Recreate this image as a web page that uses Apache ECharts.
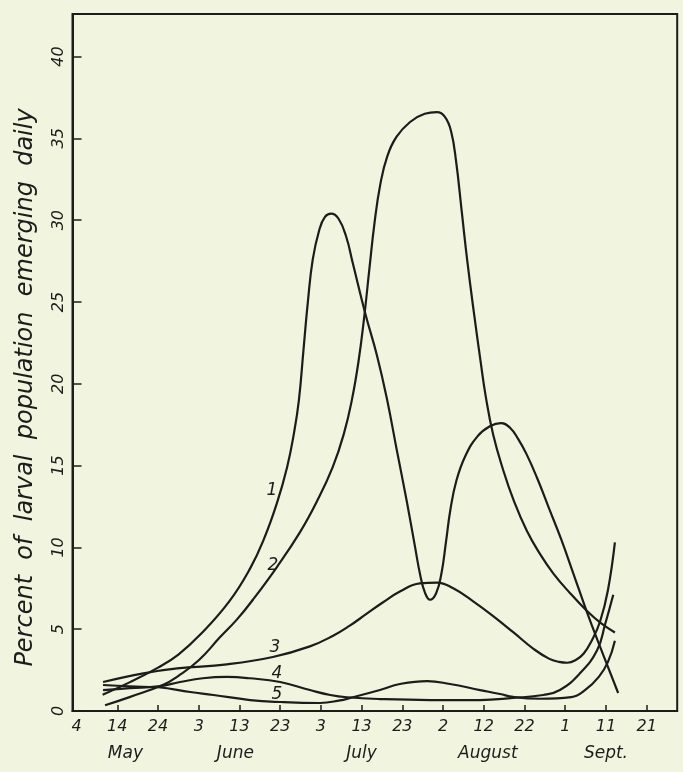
<!DOCTYPE html>
<html><head><meta charset="utf-8">
<script src="https://cdn.jsdelivr.net/npm/echarts@6/dist/echarts.min.js"></script>
<style>html,body{margin:0;padding:0;background:#f1f4df;}#c{width:683px;height:772px;}</style>
</head><body><div id="c"></div>
<script>
// x = days after 4 May
const dayTicks = [0,10,20,30,40,50,60,70,80,90,100,110,120,130,140];
const dayLabels = ['4','14','24','3','13','23','3','13','23','2','12','22','1','11','21'];
const monthPos = [12,39,70,101,130];
const monthNames = ['May','June','July','August','Sept.'];
const yTicks = [0,5,10,15,20,25,30,35,40];
const yTitle = 'Percent  of  larval  population  emerging  daily';

const curve1 = [[6.4,1.0],[13,1.75],[20,2.65],[25,3.45],[30.5,4.7],[37.5,6.7],[42.6,8.7],[46,10.5],[49.2,12.7],[51.7,14.9],[53.4,17.0],[54.6,19.0],[55.7,22.0],[56.8,25.0],[58.0,27.6],[59.6,29.4],[61,30.2],[62.5,30.4],[64.3,30.1],[66.2,29.0],[67.9,27.3],[70.9,24.3],[73.8,21.7],[76.2,19.1],[78.6,16.0],[81.1,12.8],[83.0,10.2],[84.4,8.3],[85.6,7.2],[86.8,6.8],[88.3,7.2],[89.6,8.4],[90.7,10.3],[91.8,12.3],[93.3,14.1],[95.5,15.6],[98.5,16.8],[101.5,17.4],[104.2,17.6],[106.5,17.3],[108.5,16.6],[110.5,15.7],[113,14.3],[116,12.4],[119,10.5],[122,8.4],[125.4,6.0],[128.6,3.9],[133,1.1]];
const curve2 = [[7,0.35],[13,0.85],[21.3,1.6],[25,2.15],[30,3.1],[35.2,4.5],[39.4,5.6],[43.3,6.8],[49.2,8.8],[54.8,10.9],[59,12.8],[62.9,14.9],[65.7,17.0],[67.6,19.0],[69.2,21.3],[70.6,24.0],[71.9,27.0],[73.2,29.9],[74.6,32.2],[76.3,33.9],[78.6,35.1],[81.9,36.0],[85.5,36.5],[88.5,36.6],[90.5,36.3],[92.0,35.4],[93.2,33.6],[94.6,30.5],[96.0,27.4],[97.6,24.3],[99.2,21.4],[100.5,19.2],[102.3,16.9],[104.8,14.7],[107.3,12.9],[110.6,11.0],[113.8,9.6],[117.1,8.4],[121.2,7.2],[125.4,6.1],[128.6,5.4],[132.2,4.8]];
const curve3 = [[6.5,1.77],[16.4,2.3],[24.7,2.6],[36.9,2.85],[48.2,3.3],[57.3,3.95],[63,4.6],[67,5.2],[71,5.9],[75,6.6],[79.4,7.3],[84.3,7.8],[88.5,7.85],[92.5,7.5],[97.4,6.7],[102.3,5.8],[107.3,4.8],[112.2,3.8],[116,3.2],[118.5,3.0],[120.5,2.95],[122.5,3.1],[124.5,3.5],[126.5,4.3],[128.6,5.5],[130.5,7.4],[132.2,10.3]];
const curve4 = [[6.5,1.28],[13.1,1.4],[20,1.5],[25.4,1.77],[31,2.0],[36.9,2.08],[42.6,2.0],[50,1.77],[57.3,1.28],[62.3,0.98],[66.4,0.84],[74.5,0.73],[86.8,0.67],[99.1,0.67],[107.2,0.8],[114.6,0.98],[118.7,1.28],[123.6,2.3],[127.8,3.7],[129.8,5.3],[131.8,7.1]];
const curve5 = [[6.5,1.59],[13.1,1.5],[20,1.45],[27.9,1.16],[33.6,0.98],[42.6,0.67],[50,0.55],[59.8,0.49],[64.7,0.65],[67.2,0.8],[74.5,1.28],[79.4,1.65],[86.1,1.83],[91.7,1.65],[99.1,1.28],[104,1.04],[107.2,0.86],[113.8,0.75],[121.5,0.85],[125,1.3],[128.3,2.1],[130.5,3.0],[132.2,4.3]];
const curveNames = ['1','2','3','4','5'];
const curveLabelAt = [[48.0,13.5],[48.2,8.9],[48.7,3.85],[49.2,2.3],[49.2,1.0]];

const curves = [curve1, curve2, curve3, curve4, curve5];
const ink = '#1c1c1a';
const FONT = '"DejaVu Sans", sans-serif';
const chart = echarts.init(document.getElementById('c'));
const option = {
  backgroundColor: '#f1f4df',
  animation: false,
  grid: {left: 72.5, right: 5.8, top: 14, bottom: 61, show: true, borderColor: ink, borderWidth: 2, backgroundColor: 'transparent'},
  xAxis: [{
    type: 'value', min: -1, max: 147.5, position: 'bottom',
    axisLine: {show: true, onZero: false, lineStyle: {color: ink, width: 2}},
    splitLine: {show: false},
    axisTick: {show: true, inside: true, length: 6, customValues: dayTicks.slice(1), lineStyle: {color: ink, width: 1.5}},
    axisLabel: {customValues: dayTicks, formatter: v => dayLabels[dayTicks.indexOf(v)], fontFamily: FONT, fontStyle: 'italic', fontSize: 16, color: ink, margin: 8}
  }, {
    type: 'value', min: -1, max: 147.5, position: 'bottom', offset: 26,
    axisLine: {show: false}, axisTick: {show: false}, splitLine: {show: false},
    axisLabel: {customValues: monthPos, formatter: v => monthNames[monthPos.indexOf(v)], fontFamily: FONT, fontStyle: 'italic', fontSize: 17, color: ink, margin: 8}
  }],
  yAxis: {
    type: 'value', min: 0, max: 42.6,
    axisLine: {show: true, onZero: false, lineStyle: {color: ink, width: 2}},
    splitLine: {show: false},
    axisTick: {show: true, inside: true, length: 9, customValues: yTicks, lineStyle: {color: ink, width: 1.5}},
    axisLabel: {customValues: yTicks, rotate: 90, fontFamily: FONT, fontStyle: 'italic', fontSize: 16, color: ink, margin: 6},
    name: yTitle, nameLocation: 'middle', nameRotate: 90, nameGap: 35,
    nameTextStyle: {fontFamily: FONT, fontStyle: 'italic', fontSize: 24, color: ink, padding: [0, 50, 0, 0]}
  },
  series: curves.map((c, i) => ({
    type: 'line', data: c, smooth: 0.45, showSymbol: false, symbol: 'none',
    lineStyle: {color: ink, width: 2.2}, z: 3,
    markPoint: {
      symbol: 'circle', symbolSize: 1, itemStyle: {color: 'rgba(0,0,0,0)'},
      label: {show: true, position: 'inside', formatter: curveNames[i], fontFamily: FONT, fontStyle: 'italic', fontSize: 17, color: ink},
      data: [{coord: curveLabelAt[i]}]
    }
  }))
};
chart.setOption(option);
</script></body></html>
